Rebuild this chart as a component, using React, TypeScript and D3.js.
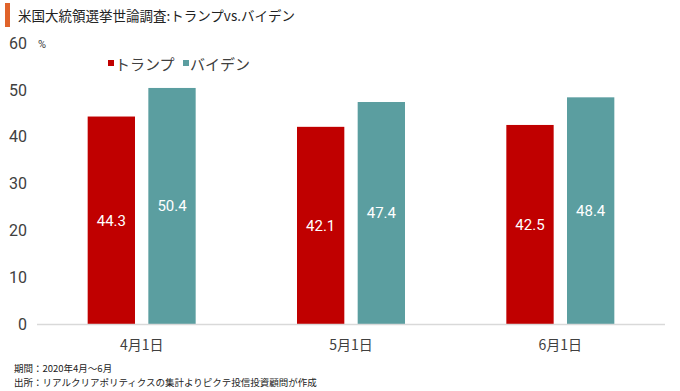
import React from 'react';
import * as d3 from 'd3';

const categories = ['4月1日', '5月1日', '6月1日'];
const seriesNames = ['トランプ', 'バイデン'];
const trump = [44.3, 42.1, 42.5];
const biden = [50.4, 47.4, 48.4];
const yTicks = [0, 10, 20, 30, 40, 50, 60];
const colors = ['#c00000', '#5b9ea0'];

const W = 680, H = 391;

const App = () => {
  const x = d3.scaleBand().domain(categories).range([37, 665]);
  const y = d3.scaleLinear().domain([0, 60]).range([324, 43]);
  const inner = d3.scaleBand().domain(seriesNames).range([-54, 54]).paddingInner(0.22);
  const series = [trump, biden];
  const font = 'Roboto, "Noto Sans CJK JP", sans-serif';
  const jp = '"Noto Sans CJK JP", sans-serif';

  return (
    <svg width={W} height={H} style={{ position: 'absolute', left: 0, top: 0, fontFamily: font }}>
      <rect x={0} y={0} width={W} height={H} fill="#fff" />
      {/* title */}
      <rect x={5} y={3} width={5} height={24} fill="#e0632a" />
      <text x={18} y={21} fontSize={13.5} fill="#222" fontFamily={jp}>
        米国大統領選挙世論調査:トランプvs.バイデン
      </text>

      {/* y axis labels */}
      {yTicks.map(t => (
        <text key={t} x={27} y={y(t)} dy="0.36em" textAnchor="end" fontSize={16} fill="#404040">
          {t}
        </text>
      ))}
      <text x={38} y={48} fontSize={11} fill="#404040">%</text>

      {/* legend */}
      {seriesNames.map((s, i) => (
        <g key={s} transform={`translate(${108 + i * 75},0)`}>
          <rect x={0} y={60} width={6} height={6} fill={colors[i]} />
          <text x={7} y={70} fontSize={15} fill="#404040" fontFamily={jp}>{s}</text>
        </g>
      ))}

      {/* bars */}
      {categories.map((c, ci) => {
        const cx = (x(c) as number) + x.bandwidth() / 2;
        return (
          <g key={c}>
            {series.map((vals, si) => {
              const bx = cx + (inner(seriesNames[si]) as number);
              const v = vals[ci];
              return (
                <g key={si}>
                  <rect x={bx} y={y(v)} width={inner.bandwidth()} height={y(0) - y(v)} fill={colors[si]} />
                  <text x={bx + inner.bandwidth() / 2} y={(y(v) + y(0)) / 2} dy="0.36em" textAnchor="middle" fontSize={15} fill="#fff">
                    {v.toFixed(1)}
                  </text>
                </g>
              );
            })}
            <text x={cx} y={350} textAnchor="middle" fontSize={14} fill="#404040" fontFamily={jp}>{c}</text>
          </g>
        );
      })}

      {/* axis line */}
      <line x1={37} x2={665} y1={y(0) + 0.5} y2={y(0) + 0.5} stroke="#d9d9d9" strokeWidth={1.5} />

      {/* footnotes */}
      <text x={14} y={372} fontSize={9.5} fill="#222" fontFamily={jp}>期間：2020年4月～6月</text>
      <text x={14} y={386} fontSize={9.5} fill="#222" fontFamily={jp}>出所：リアルクリアポリティクスの集計よりピクテ投信投資顧問が作成</text>
    </svg>
  );
};

export default App;
